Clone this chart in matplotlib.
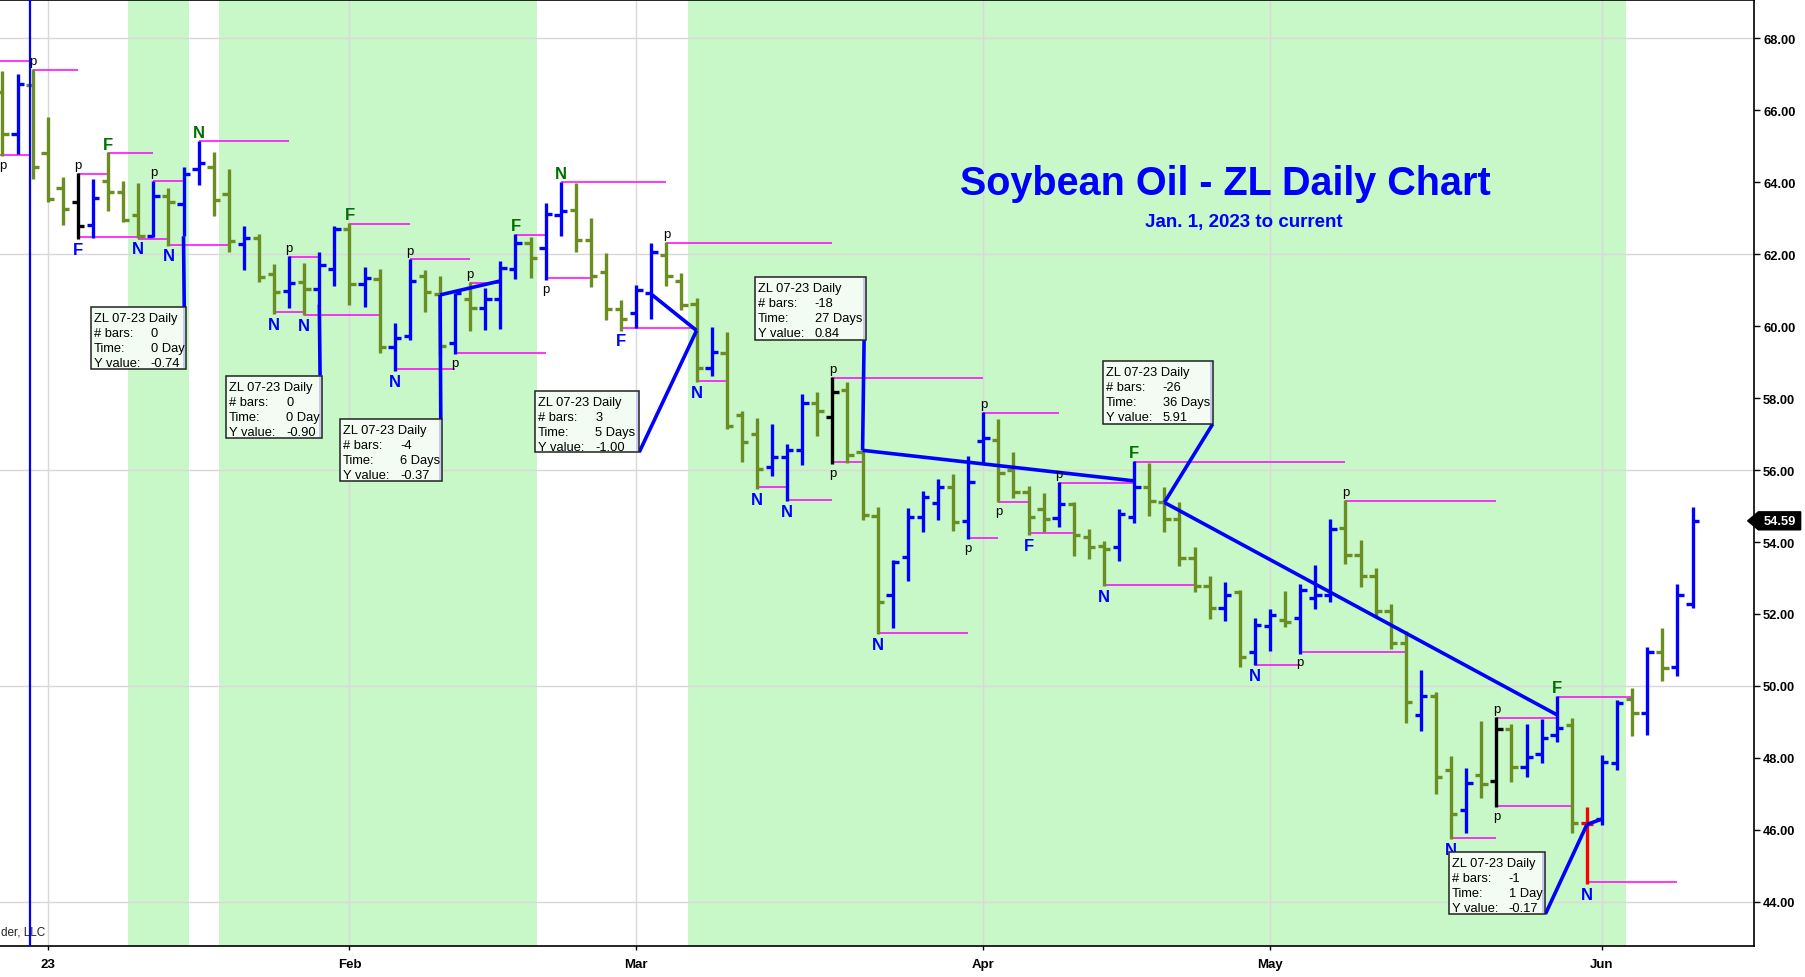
import matplotlib
matplotlib.use('Agg')
import matplotlib.pyplot as plt
import matplotlib.transforms as mtransforms
from matplotlib.patches import Rectangle, Polygon

plt.rcParams['font.family'] = ['Liberation Sans', 'DejaVu Sans']

# trading-day index: 0 = Jan 3 2023, last bar = Jun 9 2023
first_idx = -3
opens = [66.50, 65.34, 66.70, 64.81, 63.84, 63.46, 62.81, 64.05, 63.74, 63.09,
         62.52, 63.63, 63.40, 64.37, 64.44, 63.68, 62.29, 62.44, 61.45, 60.99,
         61.22, 61.03, 61.59, 62.70, 61.18, 61.31, 59.42, 59.73, 61.40, 60.89,
         59.54, 60.77, 60.52, 60.75, 61.58, 62.31, 62.17, 63.09, 63.22, 62.41,
         61.51, 60.49, 60.37, 60.91, 61.97, 61.25, 60.63, 58.84, 59.25, 57.52,
         57.01, 56.08, 56.36, 56.56, 57.86, 57.49, 58.22, 56.50, 54.72, 52.53,
         53.58, 54.71, 55.08, 55.52, 54.58, 56.80, 56.85, 56.00, 55.40, 54.93,
         54.67, 55.05, 54.14, 53.88, 53.87, 54.70, 55.54, 55.12, 54.65, 53.57,
         52.77, 52.17, 52.61, 50.93, 51.66, 51.83, 51.89, 52.45, 52.52, 54.40,
         53.65, 53.06, 52.08, 51.20, 49.20, 49.71, 47.67, 46.56, 47.51, 47.37,
         48.79, 47.74, 48.11, 48.64, 48.92, 46.20, 46.30, 47.86, 49.64, 49.25,
         50.94, 50.54, 52.27]
highs = [67.10, 67.00, 67.15, 65.81, 64.16, 64.25, 64.09, 64.83, 64.04, 63.98,
         64.05, 63.85, 64.42, 65.16, 64.83, 64.37, 62.78, 62.56, 61.73, 61.96,
         61.75, 62.07, 62.80, 62.87, 61.64, 61.59, 60.08, 61.88, 61.55, 61.40,
         60.93, 61.23, 61.07, 61.80, 62.56, 62.49, 63.42, 64.02, 63.97, 63.01,
         62.04, 60.74, 61.16, 62.30, 62.34, 61.48, 60.78, 59.98, 59.84, 57.63,
         57.45, 57.27, 56.73, 58.11, 58.17, 58.59, 58.45, 56.55, 54.97, 53.51,
         54.95, 55.41, 55.75, 55.89, 56.40, 57.62, 57.41, 56.51, 55.56, 55.37,
         55.66, 55.10, 54.36, 54.03, 54.93, 56.26, 56.20, 55.52, 55.10, 53.85,
         53.05, 52.89, 52.66, 51.90, 52.15, 52.64, 52.82, 53.36, 54.63, 55.17,
         54.05, 53.28, 52.29, 51.54, 50.45, 49.83, 48.05, 47.71, 49.02, 49.13,
         48.93, 48.93, 49.09, 49.72, 49.10, 46.63, 48.08, 49.60, 49.94, 51.08,
         51.61, 52.82, 54.98]
lows = [64.74, 64.80, 64.10, 63.46, 62.82, 62.43, 62.44, 63.19, 62.89, 62.44,
        62.47, 62.24, 62.50, 63.94, 63.06, 62.06, 61.55, 61.22, 60.34, 60.50,
        60.30, 60.60, 61.11, 60.60, 60.53, 59.26, 58.75, 59.63, 60.40, 59.20,
        59.22, 59.87, 59.90, 59.93, 61.30, 61.33, 61.29, 62.52, 62.06, 61.10,
        60.16, 59.88, 59.96, 60.21, 61.11, 60.44, 58.45, 58.61, 57.15, 56.22,
        55.48, 55.83, 55.14, 56.15, 56.96, 56.17, 56.20, 54.60, 51.43, 51.60,
        52.93, 54.27, 54.60, 54.31, 54.08, 56.19, 55.10, 55.23, 54.19, 54.27,
        54.42, 53.61, 53.54, 52.77, 53.48, 54.52, 54.73, 54.27, 53.34, 52.61,
        51.87, 51.81, 50.53, 50.57, 50.96, 51.64, 50.90, 52.13, 52.34, 53.40,
        52.75, 51.95, 51.04, 48.97, 48.76, 47.00, 45.74, 45.90, 46.88, 46.64,
        47.32, 47.46, 47.86, 48.44, 45.91, 44.49, 46.12, 47.65, 48.60, 48.64,
        50.13, 50.29, 52.17]
closes = [65.34, 66.73, 64.44, 63.54, 63.26, 62.80, 63.56, 63.74, 62.96, 62.50,
          63.63, 63.44, 64.23, 64.53, 63.51, 62.36, 62.45, 61.38, 60.94, 61.20,
          61.03, 61.71, 62.70, 61.18, 61.33, 59.42, 59.68, 61.26, 60.95, 59.45,
          60.91, 60.52, 60.77, 61.63, 62.31, 61.89, 63.11, 63.21, 62.39, 61.39,
          60.49, 60.19, 61.02, 62.05, 61.40, 60.58, 58.84, 59.28, 57.24, 56.78,
          56.02, 56.36, 56.55, 57.86, 57.63, 58.17, 56.42, 54.74, 52.34, 53.44,
          54.71, 55.25, 55.54, 54.55, 55.66, 56.88, 55.91, 55.40, 54.70, 54.65,
          55.05, 54.19, 53.87, 53.82, 54.77, 55.54, 55.14, 54.65, 53.57, 52.77,
          52.17, 52.52, 50.81, 51.70, 51.96, 51.78, 52.66, 52.52, 54.35, 53.65,
          53.06, 52.08, 51.20, 49.55, 49.71, 47.46, 46.44, 47.29, 47.28, 48.79,
          47.74, 48.02, 48.55, 48.83, 46.19, 46.15, 47.88, 49.52, 49.25, 50.94,
          50.50, 52.52, 54.59]
black_bars = [2, 52, 96]
red_bars = [102]
last_price = 54.59

month_idx = [0, 20, 39, 62, 81, 103]
month_labels = ['23', 'Feb', 'Mar', 'Apr', 'May', 'Jun']
y_ticks = [44, 46, 48, 50, 52, 54, 56, 58, 60, 62, 64, 66, 68]
y_grid = [44, 50, 56, 62, 68]

shade_start = [5.35, 11.35, 42.45]
shade_end = [9.35, 32.4, 104.6]

# pivot lines (start bar, end bar, level)
pivot_start = [-3.2, -1, -3.2, 2, 4, 7, 2, 6, 8, 10, 15, 17, 16, 20, 24, 23, 27, 28, 31, 33,
               34, 41, 38, 43, 47, 49, 52, 52, 55, 61, 62, 63, 65, 67, 70, 72, 80, 83, 86,
               93, 96, 96, 100, 102]
pivot_end = [-1.2, 2, -1.1, 4, 7, 9, 6, 8, 12, 16, 17, 22, 18, 24, 28, 27, 33, 30, 33, 36,
             41, 52, 43, 45, 49, 52, 62, 54, 61, 63, 67, 65, 68, 72, 76, 86, 83, 90, 96,
             96, 100, 101, 105, 108]
pivot_level = [67.36, 67.12, 64.76, 64.23, 64.81, 64.03, 62.47, 62.43, 62.27, 65.14,
               60.39, 60.31, 61.92, 62.85, 61.86, 58.82, 59.26, 61.21, 62.53, 61.35,
               64.01, 62.32, 59.95, 58.48, 55.53, 55.17, 58.57, 56.22, 51.47, 54.12,
               57.60, 55.12, 54.24, 55.63, 52.80, 56.23, 50.59, 50.94, 55.15, 45.76,
               49.10, 46.65, 49.69, 44.54]

p_above = [-1, 2, 7, 16, 24, 28, 41, 52, 62, 67, 86, 96]
p_below = [-3, 27, 33, 52, 61, 63, 83, 96]
f_above = [4, 20, 31, 72, 100]
n_above = [10, 34]
f_below = [2, 38, 65]
n_below = [6, 8, 15, 17, 23, 43, 47, 49, 55, 70, 80, 93, 102]

# trendlines (x0, y0, x1, y1)
trend_lines = [(26, 60.87, 30, 61.26), (40, 60.89, 43, 59.88), (54, 56.55, 72, 55.70),
               (74, 55.10, 100, 49.20), (102, 46.15, 103, 46.30)]
# connectors from measure point to info box corner
connectors = [(9, 62.50, 9.05, 60.53), (18, 60.60, 18.05, 58.63), (26, 60.87, 26.05, 57.41),
              (43, 59.88, 39.2, 56.50), (54, 56.55, 54.1, 59.61), (74, 55.10, 77.2, 57.28),
              (102, 46.15, 99.25, 43.66)]

box_left = [2.84, 11.82, 19.37, 32.3, 46.86, 69.9, 92.84]
box_right = [9.16, 18.15, 26.13, 39.2, 54.2, 77.2, 99.25]
box_top = [60.53, 58.63, 57.41, 58.2, 61.37, 59.03, 45.39]
box_bottom = [58.80, 56.89, 55.69, 56.5, 59.61, 57.28, 43.66]
box_bars = ['0', '0', '-4', '3', '-18', '-26', '-1']
box_time = ['0 Day', '0 Day', '6 Days', '5 Days', '27 Days', '36 Days', '1 Day']
box_yval = ['-0.74', '-0.90', '-0.37', '-1.00', '0.84', '5.91', '-0.17']

OLIVE = '#6b8e23'
BLUE = '#0000ff'
GREEN_TXT = '#007000'
MAGENTA = '#ff00ff'

fig = plt.figure(figsize=(18.06, 9.78), dpi=100)
ax = fig.add_axes([0, 0.0317, 0.9712, 0.9673])
ax.set_xlim(-3.16, 113.07)
ax.set_ylim(42.77, 69.07)

PX_X = 1 / 15.09   # one pixel in index units
PX_Y = 1 / 35.93   # one pixel in price units

for s, e in zip(shade_start, shade_end):
    ax.axvspan(s, e, color='#c8f7c8', lw=0, zorder=0)
for m in month_idx:
    ax.axvline(m, color='#d8d8d8', lw=1, zorder=1)
for g in y_grid:
    ax.axhline(g, color='#d8d8d8', lw=1, zorder=1)

ax.axvline(-1.17, color=BLUE, lw=1.6, zorder=6)

ax.hlines(pivot_level, pivot_start, pivot_end, colors=MAGENTA, lw=1.1, zorder=3)

idx = list(range(first_idx, first_idx + len(opens)))
colors = []
for i, o, c in zip(idx, opens, closes):
    if i in black_bars:
        colors.append('black')
    elif i in red_bars:
        colors.append('red')
    elif c >= o:
        colors.append(BLUE)
    else:
        colors.append(OLIVE)

tk = 0.42
ax.vlines(idx, lows, highs, colors=colors, lw=2.4, zorder=4)
ax.hlines(opens, [i - tk for i in idx], idx, colors=colors, lw=2.4, zorder=4)
ax.hlines(closes, idx, [i + tk for i in idx], colors=colors, lw=2.4, zorder=4)

for x0, y0, x1, y1 in trend_lines + connectors:
    ax.plot([x0, x1], [y0, y1], color=BLUE, lw=2.6, solid_capstyle='butt', zorder=5)

for i in p_above:
    ax.annotate('p', (i, highs[i - first_idx]), xytext=(0, 1.5), textcoords='offset points',
                ha='center', va='bottom', fontsize=9.5, color='black', zorder=7)
for i in p_below:
    ax.annotate('p', (i, lows[i - first_idx]), xytext=(0, -2), textcoords='offset points',
                ha='center', va='top', fontsize=9.5, color='black', zorder=7)
for lst, txt in ((f_above, 'F'), (n_above, 'N')):
    for i in lst:
        ax.annotate(txt, (i, highs[i - first_idx]), xytext=(0, 0.5), textcoords='offset points',
                    ha='center', va='bottom', fontsize=12, fontweight='bold', color=GREEN_TXT, zorder=7)
for lst, txt in ((f_below, 'F'), (n_below, 'N')):
    for i in lst:
        ax.annotate(txt, (i, lows[i - first_idx]), xytext=(0, -2), textcoords='offset points',
                    ha='center', va='top', fontsize=12, fontweight='bold', color=BLUE, zorder=7)

# info boxes
for l, r, t, b, nb, tm, yv in zip(box_left, box_right, box_top, box_bottom, box_bars, box_time, box_yval):
    ax.add_patch(Rectangle((l, b), r - l, t - b, facecolor='#f2fcf2', edgecolor='#222222',
                           lw=1.1, zorder=8))
    ax.add_patch(Rectangle((r - 3 * PX_X, b + 1 * PX_Y), 2 * PX_X, t - b - 2 * PX_Y,
                           facecolor='#c8c8f4', lw=0, zorder=8.5))
    rows = [('ZL 07-23 Daily', ''), ('# bars:', nb), ('Time:', tm), ('Y value:', yv)]
    for k, (lab, val) in enumerate(rows):
        yy = t - (11 + 15 * k) * PX_Y
        ax.text(l + 3 * PX_X, yy, lab, ha='left', va='center', fontsize=9.3, color='black', zorder=9)
        if val:
            ax.text(l + 60 * PX_X, yy, val, ha='left', va='center', fontsize=9.3, color='black', zorder=9)

ax.text(-3.1, 43.17, 'der, LLC', ha='left', va='center', fontsize=8.5, color='#222222', zorder=5)

# axes styling
ax.spines['left'].set_visible(False)
for side in ('right', 'bottom', 'top'):
    ax.spines[side].set_linewidth(1.2)
    ax.spines[side].set_color('black')
ax.yaxis.tick_right()
ax.set_yticks(y_ticks)
ax.set_yticklabels([f'{v:.2f}' for v in y_ticks], fontweight='bold', fontsize=9.3)
ax.set_xticks(month_idx)
ax.set_xticklabels(month_labels, fontweight='bold', fontsize=9.5)
ax.tick_params(axis='y', direction='out', length=4.5, width=1, pad=2)
ax.tick_params(axis='x', direction='out', length=3, width=1, pad=6)

# last price tag
tr = mtransforms.blended_transform_factory(ax.transAxes, ax.transData)
h = 0.25
tag = Polygon([(0.9964, last_price), (1.0025, last_price + h), (1.0266, last_price + h),
               (1.0266, last_price - h), (1.0025, last_price - h)], closed=True,
              facecolor='black', edgecolor='black', transform=tr, clip_on=False, zorder=10)
ax.add_patch(tag)
ax.text(1.0148, last_price, f'{last_price:.2f}', transform=tr, ha='center', va='center',
        fontsize=9.3, fontweight='bold', color='white', clip_on=False, zorder=11)

fig.text(0.6786, 0.812, 'Soybean Oil - ZL Daily Chart', ha='center', va='center',
         fontsize=28.5, fontweight='bold', color=BLUE)
fig.text(0.6886, 0.773, 'Jan. 1, 2023 to current', ha='center', va='center',
         fontsize=13.5, fontweight='bold', color=BLUE)

fig.savefig('out.png', dpi=100)
